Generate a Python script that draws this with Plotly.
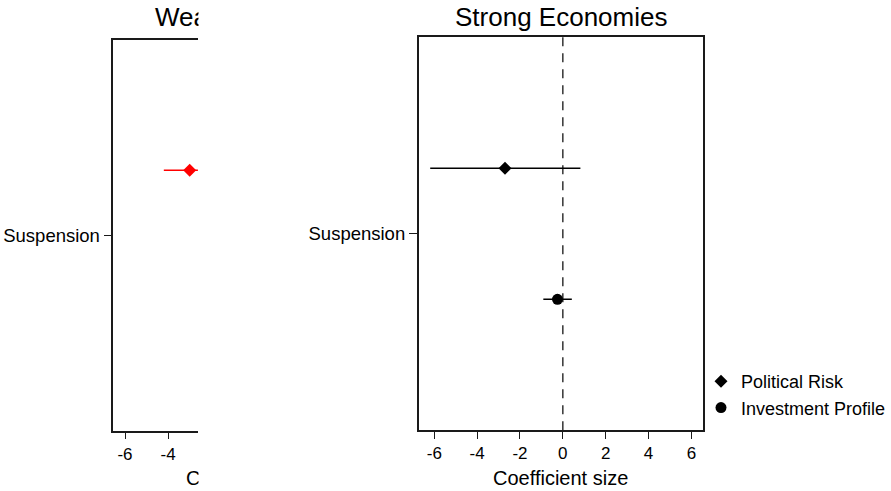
import plotly.graph_objects as go

# ---- data ----
categories = ["Suspension"]
series_names = ["Political Risk", "Investment Profile"]
series_symbols = ["diamond", "circle"]

# Weak economies panel (only the visible part of the panel)
weak_coef = [-3.0]
weak_lo = [-4.2]
weak_hi = [-1.8]

# Strong economies panel: [Political Risk, Investment Profile]
strong_coef = [-2.70, -0.25]
strong_lo = [-6.19, -0.91]
strong_hi = [0.82, 0.42]

x_tickvals = [-6, -4, -2, 0, 2, 4, 6]
x_ticktext = ["-6", "-4", "-2", "0", "2", "4", "6"]

# ---- layout constants ----
W, H = 891, 491
FONT = "Liberation Sans, Arial, Helvetica, sans-serif"
INK = "#1a1a1a"
series_offset = [1 / 3, -1 / 3]
cat_pos = {c: i for i, c in enumerate(categories)}


def px_x(p):
    return p / W


def px_y(p):
    return 1 - p / H


fig = go.Figure()

# weak panel: political risk (red)
fig.add_trace(go.Scatter(
    x=weak_coef,
    y=[cat_pos["Suspension"] + series_offset[0]],
    mode="markers",
    marker=dict(symbol="diamond", size=10, color="#ff0000"),
    error_x=dict(type="data", symmetric=False,
                 array=[h - c for h, c in zip(weak_hi, weak_coef)],
                 arrayminus=[c - l for c, l in zip(weak_coef, weak_lo)],
                 color="#ff0000", thickness=1.5, width=0),
    xaxis="x", yaxis="y", showlegend=False, cliponaxis=True,
))

# strong panel
for i, name in enumerate(series_names):
    fig.add_trace(go.Scatter(
        x=[strong_coef[i]],
        y=[cat_pos["Suspension"] + series_offset[i]],
        mode="markers",
        name=name,
        legendgroup=name,
        marker=dict(symbol=series_symbols[i], size=10 if i == 0 else 11, color="black"),
        error_x=dict(type="data", symmetric=False,
                     array=[strong_hi[i] - strong_coef[i]],
                     arrayminus=[strong_coef[i] - strong_lo[i]],
                     color="black", thickness=1.5, width=0),
        xaxis="x2", yaxis="y2", showlegend=True,
    ))

axis_common = dict(
    showgrid=False, zeroline=False, showline=True, linecolor=INK, linewidth=1.5,
    ticks="outside", tickcolor=INK, tickwidth=1.2,
)

fig.update_layout(
    width=W, height=H,
    margin=dict(l=0, r=0, t=0, b=0),
    paper_bgcolor="white", plot_bgcolor="white",
    font=dict(family=FONT, color="black"),
    xaxis=dict(domain=[px_x(114), px_x(199)], range=[-6.54, -2.62],
               tickvals=x_tickvals, ticktext=x_ticktext, ticklen=7,
               tickfont=dict(size=17), mirror=True, anchor="y", **axis_common),
    yaxis=dict(domain=[px_y(430.7), px_y(40)], range=[-1, 1],
               tickvals=[cat_pos[c] for c in categories], ticktext=categories,
               ticklen=8, tickfont=dict(size=18.5), mirror=False, anchor="x",
               **axis_common),
    xaxis2=dict(domain=[px_x(421), px_x(706.7)], range=[-6.73, 6.53],
                tickvals=x_tickvals, ticktext=x_ticktext, ticklen=7,
                tickfont=dict(size=17), mirror=True, anchor="y2", **axis_common),
    yaxis2=dict(domain=[px_y(430.3), px_y(37.3)], range=[-1, 1],
                tickvals=[cat_pos[c] for c in categories], ticktext=categories,
                ticklen=8, tickfont=dict(size=18.5), mirror=True, anchor="x2",
                **axis_common),
    legend=dict(x=px_x(705), y=px_y(363), xanchor="left", yanchor="top",
                font=dict(size=18), bgcolor="rgba(0,0,0,0)", borderwidth=0,
                tracegroupgap=0, traceorder="grouped"),
    shapes=[dict(type="line", xref="x2", yref="y2 domain", x0=0, x1=0, y0=0, y1=1,
                 line=dict(color="#333333", width=1.5, dash="9px,7px"), layer="below")],
    annotations=[
        dict(text="Wea", x=px_x(154), y=px_y(17), xref="paper", yref="paper",
             xanchor="left", yanchor="middle", showarrow=False, font=dict(size=26)),
        dict(text="C", x=px_x(185), y=px_y(478), xref="paper", yref="paper",
             xanchor="left", yanchor="middle", showarrow=False, font=dict(size=20)),
        # white mask: the left panel is cut off at its right edge in the reference
        dict(text=" ", x=px_x(199), y=px_y(0), xref="paper", yref="paper",
             xanchor="left", yanchor="top", showarrow=False, bgcolor="white",
             width=20, height=40, borderpad=0, font=dict(size=10)),
        dict(text=" ", x=px_x(199), y=px_y(462), xref="paper", yref="paper",
             xanchor="left", yanchor="top", showarrow=False, bgcolor="white",
             width=20, height=29, borderpad=0, font=dict(size=10)),
        dict(text="Strong Economies", x=px_x(563.8), y=px_y(17), xref="paper", yref="paper",
             xanchor="center", yanchor="middle", showarrow=False, font=dict(size=26)),
        dict(text="Coefficient size", x=px_x(563.8), y=px_y(478), xref="paper", yref="paper",
             xanchor="center", yanchor="middle", showarrow=False, font=dict(size=20)),
    ],
)

fig.write_html(
    "out.html",
    config={"displayModeBar": False},
    post_script="document.body.style.margin='0';document.body.style.overflow='hidden';",
)
